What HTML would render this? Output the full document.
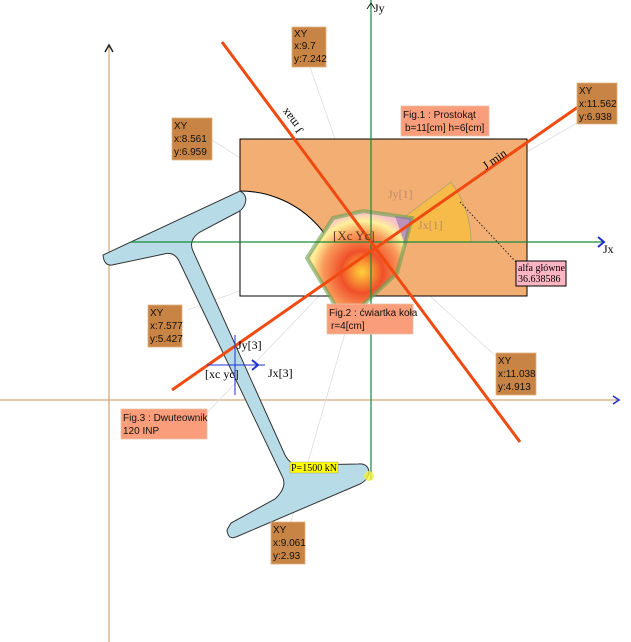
<!DOCTYPE html>
<html><head><meta charset="utf-8"><style>
html,body{margin:0;padding:0;background:#fff;}
svg{display:block;}
.s{font-family:"Liberation Sans",sans-serif;font-size:10px;fill:#111;}
.t{font-family:"Liberation Serif",serif;}
</style></head><body>
<svg width="631" height="642" viewBox="0 0 631 642" xmlns="http://www.w3.org/2000/svg">
<defs>
<radialGradient id="g" cx="362" cy="272" r="60" gradientUnits="userSpaceOnUse">
<stop offset="0" stop-color="#ffd23a"/><stop offset="0.35" stop-color="#f0502a"/><stop offset="0.65" stop-color="#f99a5a"/><stop offset="0.85" stop-color="#fff09a"/><stop offset="1" stop-color="#f8c0c8"/>
</radialGradient>
</defs>
<line x1="109" y1="45" x2="109" y2="642" stroke="#c8945a" stroke-width="1"/>
<polyline points="105,52 109,45 113,52" fill="none" stroke="#222" stroke-width="1.5"/>
<line x1="0" y1="400" x2="620" y2="400" stroke="#c8945a" stroke-width="1"/>
<polyline points="613,396 619,400 613,404" fill="none" stroke="#2030d0" stroke-width="1.5"/>
<g stroke="#ddd" stroke-width="0.8">
<line x1="371" y1="242" x2="310" y2="67"/><line x1="371" y1="242" x2="212" y2="140"/>
<line x1="371" y1="242" x2="577" y2="123"/><line x1="371" y1="242" x2="188" y2="310"/>
<line x1="371" y1="242" x2="500" y2="360"/><line x1="371" y1="242" x2="290" y2="525"/>
<line x1="371" y1="242" x2="200" y2="420"/>
</g>
<rect x="240" y="139" width="287" height="157" fill="#f3ae74" stroke="#000" stroke-width="1"/>
<path d="M240,191 A105,105 0 0 1 345,296 L240,296 Z" fill="#fff" stroke="none"/>
<path d="M240,191 A105,105 0 0 1 345,296" fill="none" stroke="#000" stroke-width="1"/>
<line x1="240" y1="191" x2="240" y2="296" stroke="#000" stroke-width="1"/>
<line x1="240" y1="296" x2="345" y2="296" stroke="#000" stroke-width="1"/>
<path d="M371,242 L471,242 A100,100 0 0 0 451,182 Z" fill="#f6bb48" stroke="#b0a070" stroke-width="0.8"/>
<line x1="460" y1="202" x2="516" y2="262" stroke="#222" stroke-width="1" stroke-dasharray="1.5,2"/>
<polygon points="333,218 363,211 412,218 397,273 345,322 307,258" fill="url(#g)" stroke="#6aa050" stroke-opacity="0.6" stroke-width="4"/>
<polygon points="395,216 412,218 405,245" fill="#8060b0" opacity="0.5"/>
<path d="M240,191 Q248,195 245,204 Q243,210 236,213 L200,232 Q188,240 193,251 L285,455 Q292,468 306,465 L358,464 Q368,463 369,472 Q368,480 360,484 L236,537 Q228,540 227,530 L231,523 L275,499 Q288,487 282,476 L180,263 Q175,251 164,254 L112,265 Q104,266 103,255 Z" fill="#b7dce8" stroke="#333" stroke-width="1"/>
<line x1="371" y1="0" x2="371" y2="480" stroke="#1a8a3a" stroke-width="1.2"/>
<line x1="130" y1="242" x2="604" y2="242" stroke="#1a8a3a" stroke-width="1.2"/>
<polyline points="598,237 604,242 598,247" fill="none" stroke="#2030d0" stroke-width="2"/>
<polyline points="367,9 371,3 375,9" fill="none" stroke="#222" stroke-width="1"/>
<text x="374" y="12" class="t" font-size="12">Jy</text>
<text x="603" y="253" class="t" font-size="12">Jx</text>
<line x1="222" y1="42" x2="520" y2="442" stroke="#f04a10" stroke-width="3"/>
<line x1="172" y1="390" x2="598" y2="93" stroke="#f04a10" stroke-width="3"/>
<text transform="translate(304,130) rotate(233)" class="t" font-size="12">J max</text>
<text transform="translate(486,170) rotate(-35)" class="t" font-size="12">J min</text>
<text x="388" y="198" class="t" font-size="12" fill="#b0806a" opacity="0.8">Jy[1]</text>
<text x="418" y="229" class="t" font-size="12" fill="#b0806a" opacity="0.8">Jx[1]</text>
<text x="333" y="240" class="t" font-size="13" fill="#5a3a20">[Xc  Yc]</text>
<line x1="235" y1="335" x2="235" y2="395" stroke="#2030d0" stroke-width="1"/>
<line x1="207" y1="365" x2="265" y2="365" stroke="#2030d0" stroke-width="1"/>
<polyline points="252,360 258,365 252,370" fill="none" stroke="#2030d0" stroke-width="2"/>
<text x="237" y="349" class="t" font-size="12">Jy[3]</text>
<text x="268" y="377" class="t" font-size="12">Jx[3]</text>
<text x="205" y="378" class="t" font-size="12">[xc  yc]</text>
<circle cx="369" cy="476" r="5" fill="#f0f040" opacity="0.8"/>
<rect x="290" y="462" width="48" height="11" fill="#ffff00" stroke="#999" stroke-width="0.5"/>
<text x="291" y="471" class="t" font-size="10">P=1500 kN</text>
<g fill="#c88445" stroke="#e0b080" stroke-width="0.8">
<rect x="292" y="27" width="34" height="40"/><rect x="172" y="118" width="40" height="42"/>
<rect x="577" y="83" width="40" height="41"/><rect x="148" y="305" width="34" height="42"/>
<rect x="496" y="353" width="40" height="42"/><rect x="271" y="522" width="34" height="42"/>
</g>
<g class="s">
<text x="294" y="37">XY</text><text x="294" y="49">x:9.7</text><text x="294" y="62">y:7.242</text>
<text x="174" y="129">XY</text><text x="174" y="142">x:8.561</text><text x="174" y="155">y:6.959</text>
<text x="579" y="94">XY</text><text x="579" y="107">x:11.562</text><text x="579" y="120">y:6.938</text>
<text x="150" y="316">XY</text><text x="150" y="329">x:7.577</text><text x="150" y="342">y:5.427</text>
<text x="498" y="364">XY</text><text x="498" y="377">x:11.038</text><text x="498" y="390">y:4.913</text>
<text x="273" y="533">XY</text><text x="273" y="546">x:9.061</text><text x="273" y="559">y:2.93</text>
</g>
<g fill="#fa9d7b" stroke="#e8c0a8" stroke-width="0.8">
<rect x="401" y="106" width="88" height="30"/><rect x="327" y="304" width="86" height="30"/><rect x="121" y="409" width="86" height="30"/>
</g>
<g class="s">
<text x="403" y="118">Fig.1 : Prostokąt</text><text x="405" y="131">b=11[cm] h=6[cm]</text>
<text x="329" y="316">Fig.2 : ćwiartka koła</text><text x="331" y="329">r=4[cm]</text>
<text x="123" y="421">Fig.3 : Dwuteownik</text><text x="123" y="434">120 INP</text>
</g>
<rect x="516" y="261" width="50" height="25" fill="#ffb6c4" stroke="#000" stroke-width="1"/>
<text x="518" y="271" class="t" font-size="10">alfa główne</text>
<text x="518" y="282" class="t" font-size="10">36.638586</text>
</svg>
</body></html>
